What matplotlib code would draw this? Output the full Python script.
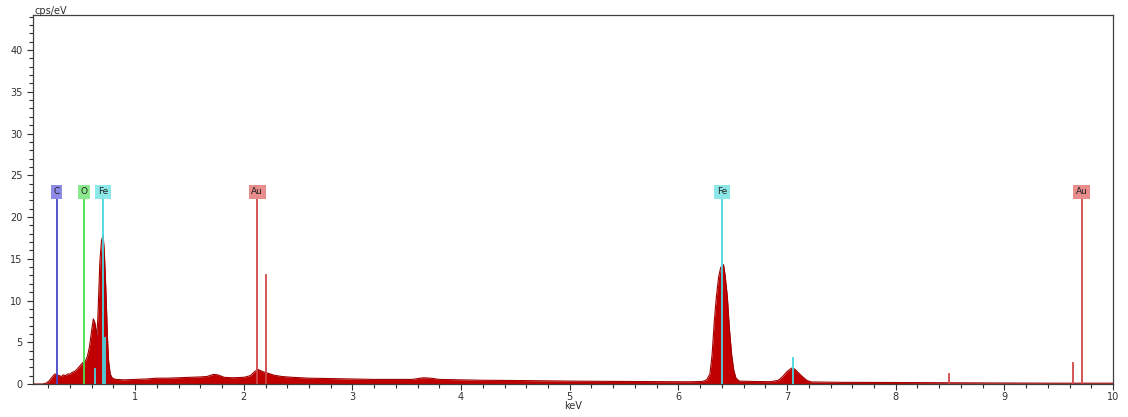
import matplotlib.pyplot as plt
from matplotlib.ticker import MultipleLocator

# spectrum (keV, cps/eV)
energy = [0.06, 0.15, 0.18, 0.21, 0.24, 0.26, 0.28, 0.30, 0.32, 0.34, 0.36, 0.38,
          0.40, 0.42, 0.44, 0.46, 0.48, 0.50, 0.52, 0.54, 0.56, 0.58, 0.60, 0.615,
          0.63, 0.645, 0.655, 0.665, 0.675, 0.69, 0.705, 0.715, 0.725, 0.735, 0.745,
          0.755, 0.77, 0.79, 0.82, 0.90, 1.00, 1.10, 1.20, 1.30, 1.40, 1.50, 1.60,
          1.66, 1.72, 1.76, 1.82, 1.90, 2.00, 2.06, 2.10, 2.13, 2.17, 2.22, 2.28,
          2.35, 2.45, 2.60, 2.80, 3.00, 3.20, 3.40, 3.55, 3.65, 3.72, 3.80, 4.00,
          4.20, 4.50, 4.80, 5.00, 5.30, 5.60, 5.90, 6.10, 6.22, 6.26, 6.29, 6.31,
          6.33, 6.35, 6.37, 6.39, 6.40, 6.415, 6.43, 6.45, 6.47, 6.49, 6.51, 6.53,
          6.56, 6.70, 6.85, 6.92, 6.96, 7.00, 7.04, 7.07, 7.10, 7.14, 7.18, 7.22,
          7.50, 8.00, 8.50, 9.00, 9.50, 10.0]
counts = [0.0, 0.0, 0.1, 0.4, 0.9, 1.2, 1.1, 1.0, 0.9, 1.1, 1.0, 1.2,
          1.2, 1.4, 1.5, 1.7, 2.0, 2.3, 2.6, 2.7, 3.3, 4.5, 6.5, 7.8,
          7.3, 5.8, 7.5, 11.0, 14.6, 17.2, 17.8, 16.0, 13.0, 9.5, 5.5,
          2.8, 1.2, 0.7, 0.55, 0.5, 0.55, 0.6, 0.7, 0.7, 0.75, 0.8, 0.85,
          0.9, 1.15, 1.1, 0.8, 0.75, 0.8, 1.0, 1.5, 1.75, 1.5, 1.3, 1.05,
          0.9, 0.8, 0.7, 0.65, 0.6, 0.55, 0.55, 0.55, 0.75, 0.7, 0.55, 0.5,
          0.45, 0.42, 0.38, 0.35, 0.32, 0.3, 0.28, 0.27, 0.3, 0.5, 1.2, 3.5,
          7.5, 10.5, 12.8, 14.0, 14.0, 14.3, 13.0, 10.5, 6.5, 3.5, 1.6, 0.7,
          0.35, 0.3, 0.28, 0.45, 0.9, 1.5, 1.9, 1.8, 1.4, 0.9, 0.45, 0.25,
          0.2, 0.18, 0.15, 0.12, 0.1, 0.1]

# labelled element markers
marker_names = ["C", "O", "Fe", "Au", "Fe", "Au"]
marker_kev = [0.277, 0.525, 0.705, 2.123, 6.40, 9.713]
marker_line_colors = ["#4848c8", "#48e048", "#48d8e0", "#d04848", "#48d8e0", "#d04848"]
marker_box_colors = ["#8c8ce8", "#8ce88c", "#8ce8e8", "#e88c8c", "#8ce8e8", "#e88c8c"]

# secondary lines without labels
minor_kev = [0.628, 0.718, 2.204, 7.058, 8.494, 9.628]
minor_height = [1.8, 5.5, 13.0, 3.1, 1.2, 2.5]
minor_colors = ["#48d8e0", "#48d8e0", "#d04848", "#48d8e0", "#d04848", "#d04848"]

fig = plt.figure(figsize=(11.28, 4.17), dpi=100)
ax = fig.add_axes([0.0293, 0.0791, 0.9574, 0.885])

ax.fill_between(energy, counts, 0, color="#c00000", lw=0, zorder=2)
ax.plot(energy, counts, color="#a00000", lw=0.8, zorder=2)

line_top = 22.2
for name, e, lc, bc in zip(marker_names, marker_kev, marker_line_colors, marker_box_colors):
    ax.plot([e, e], [0, line_top], color=lc, lw=1.3, zorder=3)
    ax.text(e, line_top + 0.8, name, ha="center", va="center", fontsize=6.5,
            color="#202020", zorder=4,
            bbox=dict(boxstyle="square,pad=0.28", fc=bc, ec="none"))

for e, h, c in zip(minor_kev, minor_height, minor_colors):
    ax.plot([e, e], [0, h], color=c, lw=1.3, zorder=3)

ax.set_xlim(0.06, 10)
ax.set_ylim(0, 44.2)
ax.xaxis.set_major_locator(MultipleLocator(1))
ax.xaxis.set_minor_locator(MultipleLocator(0.2))
ax.yaxis.set_major_locator(MultipleLocator(5))
ax.yaxis.set_minor_locator(MultipleLocator(1))
ax.tick_params(which="both", direction="out", labelsize=7, colors="#303030")
ax.tick_params(which="major", length=4, width=0.8)
ax.tick_params(which="minor", length=3, width=0.8)
ax.tick_params(axis="x", pad=2)
ax.set_xticks(range(1, 11))
for s in ax.spines.values():
    s.set_color("#404040")
    s.set_linewidth(0.9)

ax.set_xlabel("keV", fontsize=7, labelpad=-1, color="#303030")
fig.text(0.031, 0.962, "cps/eV", fontsize=7, color="#303030", ha="left", va="bottom")

fig.savefig("out.png", dpi=100)
